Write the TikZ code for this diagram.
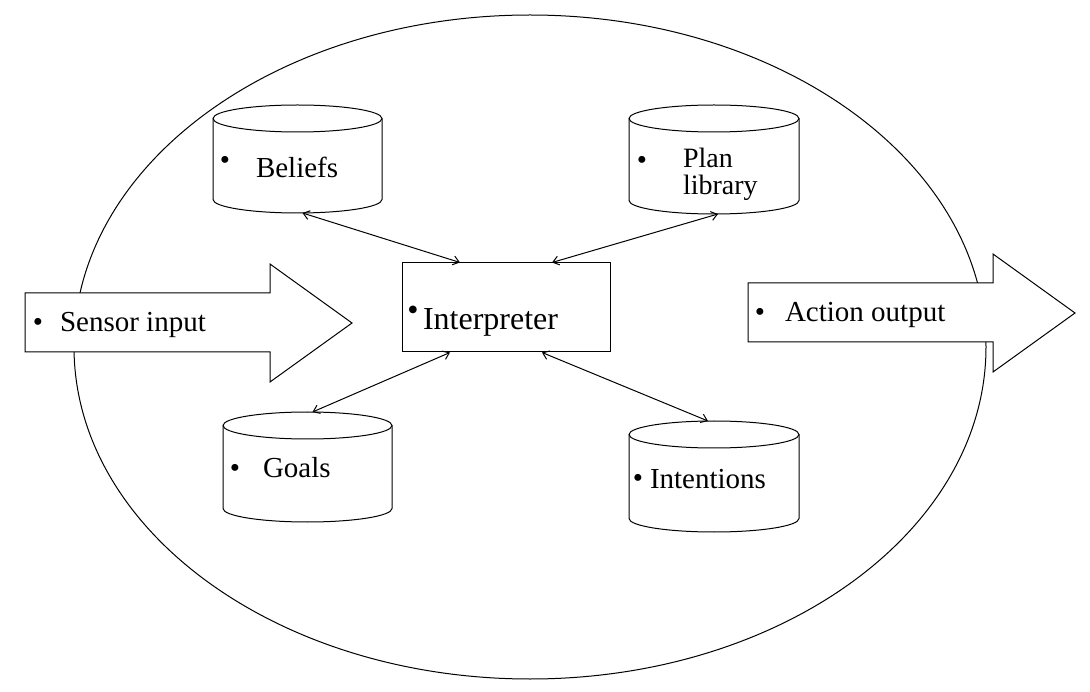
\documentclass[tikz,border=0pt]{standalone}
\usepackage{fontspec}
\setmainfont{Liberation Serif}
\usetikzlibrary{arrows.meta,calc}
\tikzset{
  line/.style={draw=black,line width=1pt},
  conn/.style={line width=1pt,{Straight Barb[length=6pt,width=9pt]}-{Straight Barb[length=6pt,width=9pt]}},
  cylbox/.style={draw=none,inner sep=0pt,outer sep=0pt},
  txt/.style={inner sep=0pt,outer sep=0pt,anchor=base west,font=\fontsize{29}{32}\selectfont},
  bul/.style={inner sep=0pt,outer sep=0pt,anchor=base,font=\fontsize{29}{32}\selectfont},
}
\newcommand\drawcyl[2]{%
  \fill[white] ([yshift=-13.5pt]#1.north west) -- ([yshift=13.5pt]#1.south west)
     arc[start angle=180,end angle=360,x radius=#2pt,y radius=13.5pt]
     -- ([yshift=-13.5pt]#1.north east)
     arc[start angle=0,end angle=180,x radius=#2pt,y radius=13.5pt] -- cycle;
  \draw[line] ([yshift=-13.5pt]#1.north west) -- ([yshift=13.5pt]#1.south west)
     arc[start angle=180,end angle=360,x radius=#2pt,y radius=13.5pt]
     -- ([yshift=-13.5pt]#1.north east);
  \draw[line] ([yshift=-13.5pt]#1.north west)
     arc[start angle=180,end angle=540,x radius=#2pt,y radius=13.5pt];
}
\begin{document}
\begin{tikzpicture}[x=1pt,y=-1pt]
\useasboundingbox (0,0) rectangle (1090,692);
% outer ellipse
\draw[line] (530,347) ellipse [x radius=456pt,y radius=332pt];

% cylinders (named boxes)
\node[cylbox,minimum width=169pt,minimum height=108pt] (bel) at (297.5,159) {};
\node[cylbox,minimum width=170pt,minimum height=109pt] (plan) at (714,159.5) {};
\node[cylbox,minimum width=169pt,minimum height=110pt] (goal) at (307.5,467) {};
\node[cylbox,minimum width=170pt,minimum height=111pt] (int) at (714,476.5) {};
\drawcyl{bel}{84.5}
\drawcyl{plan}{85}
\drawcyl{goal}{84.5}
\drawcyl{int}{85}

% interpreter
\node[line,fill=white,minimum width=208pt,minimum height=89pt,inner sep=0pt] (interp) at (506,307.5) {};

% block arrows
\draw[line,fill=white] (25,293) -- (270,293) -- (270,264) -- (352,323) -- (270,382) -- (270,352) -- (25,352) -- cycle;
\draw[line,fill=white] (748,283) -- (993,283) -- (993,254) -- (1075,313) -- (993,372) -- (993,342) -- (748,342) -- cycle;
\coordinate (sensor) at (188,323);
\coordinate (action) at (911,313);

% connectors
\draw[conn] ([xshift=5pt]bel.south) -- ([xshift=-46pt]interp.north);
\draw[conn] ([xshift=4pt]plan.south) -- ([xshift=46pt]interp.north);
\draw[conn] ([xshift=5pt]goal.north) -- ([xshift=-56pt]interp.south);
\draw[conn] ([xshift=-6pt]int.north) -- ([xshift=36pt]interp.south);

% texts
\node[bul] (b1) at (38,332) {•};
\node[txt] (t1) at (60,332) {Sensor input};
\node[bul] (b2) at (760,322) {•};
\node[txt] (t2) at (785,322) {Action output};
\node[bul] (b3) at (225,170) {•};
\node[txt] (t3) at (256,178) {Beliefs};
\node[bul] (b4) at (642,170) {•};
\node[txt,font=\fontsize{28}{30}\selectfont] (t4) at (683,168) {Plan};
\node[txt,font=\fontsize{28}{30}\selectfont] (t4b) at (683,195) {library};
\node[bul] (b5) at (235,477) {•};
\node[txt] (t5) at (263,478) {Goals};
\node[bul] (b6) at (638,487) {•};
\node[txt] (t6) at (650,488) {Intentions};
\node[bul,font=\fontsize{32}{34}\selectfont] (b7) at (413,321) {•};
\node[txt,font=\fontsize{32}{34}\selectfont] (t7) at (423,330) {Interpreter};
\end{tikzpicture}
\end{document}
